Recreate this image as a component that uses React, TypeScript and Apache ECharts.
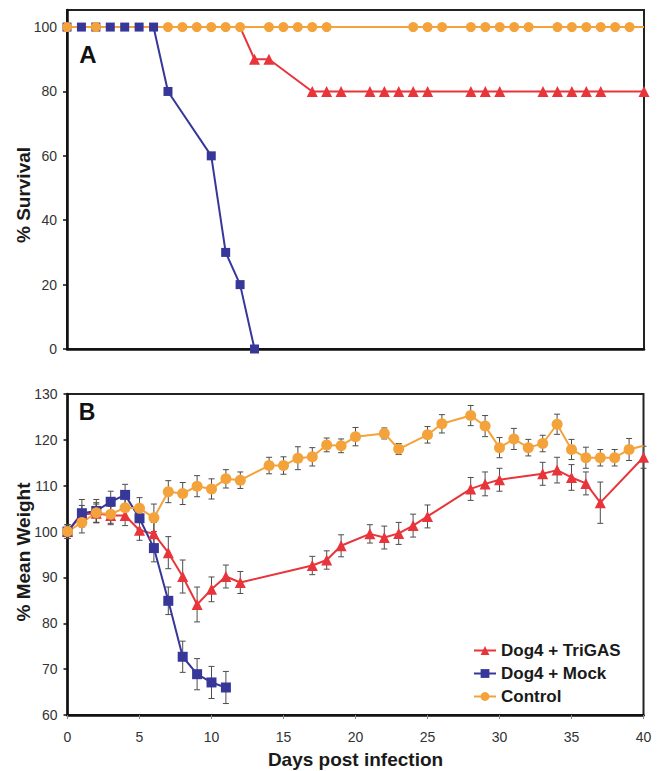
import React, { useEffect, useRef } from "react";
import * as echarts from "echarts";

// ---------- Data ----------
const seriesNames = ["Dog4 + TriGAS", "Dog4 + Mock", "Control"];

// Panel A: % survival
const survTriDays = [12, 13, 14, 17, 18, 19, 21, 22, 23, 24, 25, 28, 29, 30, 33, 34, 35, 36, 37, 40];
const survTri = [100, 90, 90, 80, 80, 80, 80, 80, 80, 80, 80, 80, 80, 80, 80, 80, 80, 80, 80, 80];
const survTriNoMarker = [12];

const survMockDays = [0, 1, 2, 3, 4, 5, 6, 7, 10, 11, 12, 13];
const survMock = [100, 100, 100, 100, 100, 100, 100, 80, 60, 30, 20, 0];

const survCtrlDays = [0, 2, 7, 8, 9, 10, 11, 12, 14, 15, 16, 17, 18, 24, 25, 26, 28, 29, 30, 31, 32, 34, 35, 36, 37, 38, 39, 40];
const survCtrl = [100, 100, 100, 100, 100, 100, 100, 100, 100, 100, 100, 100, 100, 100, 100, 100, 100, 100, 100, 100, 100, 100, 100, 100, 100, 100, 100, 100];
const survCtrlNoMarker = [40];

// Panel B: % mean weight
const wtTriDays = [0, 1, 2, 3, 4, 5, 6, 7, 8, 9, 10, 11, 12, 17, 18, 19, 21, 22, 23, 24, 25, 28, 29, 30, 33, 34, 35, 36, 37, 40];
const wtTri = [100, 103.7, 104, 103.5, 103.5, 100.3, 99.5, 95.4, 90.2, 84.1, 87.4, 90.2, 88.9, 92.6, 93.8, 96.9, 99.5, 98.7, 99.6, 101.3, 103.3, 109.3, 110.4, 111.3, 112.6, 113.4, 111.8, 110.5, 106.3, 116.2];
const wtTriErr = [1.5, 2, 2, 2, 2.2, 2.2, 2.5, 3.5, 3.6, 3.8, 2.7, 2.5, 2.4, 2, 2, 2.4, 2, 2.5, 2.4, 2.5, 2.5, 2.5, 2.6, 2.5, 2.5, 2.8, 2.8, 2.5, 4.5, 2.4];

const wtMockDays = [0, 1, 2, 3, 4, 5, 6, 7, 8, 9, 10, 11];
const wtMock = [100, 104.0, 104.5, 106.5, 108.0, 102.9, 96.4, 84.9, 72.7, 68.9, 67.1, 66.0];
const wtMockErr = [1.5, 3, 2.5, 2.3, 2.3, 2.5, 3, 3, 3.4, 3.4, 3.5, 3.5];

const wtCtrlDays = [0, 1, 2, 3, 4, 5, 6, 7, 8, 9, 10, 11, 12, 14, 15, 16, 17, 18, 19, 20, 22, 23, 25, 26, 28, 29, 30, 31, 32, 33, 34, 35, 36, 37, 38, 39, 40];
const wtCtrl = [100.0, 102.0, 104.1, 103.8, 105.2, 105.1, 103.0, 108.7, 108.3, 109.9, 109.3, 111.5, 111.2, 114.4, 114.4, 116.0, 116.3, 118.9, 118.7, 120.7, 121.4, 118.0, 121.1, 123.5, 125.3, 123.0, 118.3, 120.2, 118.3, 119.2, 123.4, 117.9, 116.1, 116.1, 116.1, 117.9, 118.7];
const wtCtrlErr = [1.5, 2.3, 2.2, 2, 2.3, 2.3, 3, 2.4, 2.4, 2.3, 2.2, 2, 1.8, 1.8, 1.9, 2.5, 2, 1.5, 1.5, 2, 1.2, 1.2, 1.8, 2, 2.2, 2.3, 2.2, 2.3, 1.8, 1.8, 2.2, 2.2, 2.3, 1.8, 1.8, 2.4, 0];
const wtCtrlNoMarker = [40];

const survTicks = [0, 20, 40, 60, 80, 100];

// ---------- Styling ----------
const RED = "#E8353B";
const BLUE = "#37379A";
const ORANGE = "#F4A23A";
const FONT = "Liberation Sans, Arial, Helvetica, sans-serif";

function pts(days: number[], vals: number[], hidden: number[] = []) {
  return days.map((d, i) => {
    const item: any = { value: [d, vals[i]] };
    if (hidden.includes(d)) item.symbol = "none";
    return item;
  });
}
function errPts(days: number[], vals: number[], errs: number[]) {
  return days.map((d, i) => [d, vals[i], errs[i]]);
}

const errRender = (params: any, api: any) => {
  const x = api.value(0);
  const y = api.value(1);
  const e = api.value(2);
  if (!e) return null;
  const top = api.coord([x, y + e]);
  const bot = api.coord([x, y - e]);
  const st = { stroke: "#4d4d4d", lineWidth: 1 };
  const w = 3;
  return {
    type: "group",
    children: [
      { type: "line", shape: { x1: top[0], y1: top[1], x2: bot[0], y2: bot[1] }, style: st },
      { type: "line", shape: { x1: top[0] - w, y1: top[1], x2: top[0] + w, y2: top[1] }, style: st },
      { type: "line", shape: { x1: bot[0] - w, y1: bot[1], x2: bot[0] + w, y2: bot[1] }, style: st },
    ],
  };
};

export default function App() {
  const ref = useRef<HTMLDivElement>(null);
  useEffect(() => {
    if (!ref.current) return;
    const chart = echarts.init(ref.current, undefined, { renderer: "svg" });
    const lineBase = (name: string, color: string, symbol: string, size: number) => ({
      type: "line",
      name,
      symbol,
      symbolSize: size,
      lineStyle: { color, width: 2 },
      itemStyle: { color, borderWidth: 0 },
      emphasis: { disabled: true },
    });
    const option: any = {
      animation: false,
      backgroundColor: "#ffffff",
      textStyle: { fontFamily: FONT },
      grid: [
        { left: 67, top: 10, width: 577, height: 339, show: true, borderColor: "#222", borderWidth: 2, backgroundColor: "transparent" },
        { left: 67.5, top: 394, width: 576, height: 321, show: true, borderColor: "#222", borderWidth: 2, backgroundColor: "transparent" },
      ],
      xAxis: [
        {
          type: "value", gridIndex: 0, min: 0, max: 40, interval: 5,
          axisLine: { show: true, onZero: false, lineStyle: { color: "#111", width: 2.5 } },
          axisTick: { show: false }, axisLabel: { show: false }, splitLine: { show: false },
        },
        {
          type: "value", gridIndex: 1, min: 0, max: 40, interval: 5,
          name: "Days post infection", nameLocation: "middle", nameGap: 35,
          nameTextStyle: { fontFamily: FONT, fontWeight: "bold", fontSize: 19, color: "#1a1a1a" },
          axisLine: { show: true, onZero: false, lineStyle: { color: "#111", width: 2.5 } },
          axisTick: { show: true, inside: false, length: 4, lineStyle: { color: "#888", width: 1 } },
          axisLabel: { fontFamily: FONT, fontSize: 14, color: "#333", margin: 15 },
          splitLine: { show: false },
        },
      ],
      yAxis: [
        {
          type: "value", gridIndex: 0, min: 0, max: 105.3, interval: 20,
          axisLine: { show: true, onZero: false, lineStyle: { color: "#111", width: 2.5 } },
          axisTick: { show: true, inside: false, length: 4, lineStyle: { color: "#111", width: 1.5 }, customValues: survTicks },
          axisLabel: { fontFamily: FONT, fontSize: 14, color: "#333", margin: 10, customValues: survTicks },
          splitLine: { show: false },
        },
        {
          type: "value", gridIndex: 1, min: 60, max: 130, interval: 10,
          axisLine: { show: true, onZero: false, lineStyle: { color: "#111", width: 2.5 } },
          axisTick: { show: true, inside: false, length: 4, lineStyle: { color: "#111", width: 1.5 } },
          axisLabel: { fontFamily: FONT, fontSize: 14, color: "#333", margin: 10 },
          splitLine: { show: false },
        },
      ],
      legend: {
        orient: "vertical",
        left: 468,
        top: 637,
        itemWidth: 22,
        itemHeight: 11,
        itemGap: 6,
        data: seriesNames,
        textStyle: { fontFamily: FONT, fontWeight: "bold", fontSize: 17, color: "#1a1a1a" },
        selectedMode: false,
      },
      graphic: [
        { type: "text", x: 88, y: 54, style: { text: "A", font: `bold 24px ${FONT}`, fill: "#111", align: "center", verticalAlign: "middle" } },
        { type: "text", x: 87, y: 412, style: { text: "B", font: `bold 23px ${FONT}`, fill: "#111", align: "center", verticalAlign: "middle" } },
        { type: "text", x: 23, y: 195, rotation: Math.PI / 2, style: { text: "% Survival", font: `bold 19px ${FONT}`, fill: "#1a1a1a", align: "center", verticalAlign: "middle" } },
        { type: "text", x: 23, y: 552, rotation: Math.PI / 2, style: { text: "% Mean Weight", font: `bold 19px ${FONT}`, fill: "#1a1a1a", align: "center", verticalAlign: "middle" } },
      ],
      series: [
        // Panel A
        { ...lineBase(seriesNames[0], RED, "triangle", 11), xAxisIndex: 0, yAxisIndex: 0, data: pts(survTriDays, survTri, survTriNoMarker) },
        { ...lineBase(seriesNames[1], BLUE, "rect", 9), xAxisIndex: 0, yAxisIndex: 0, data: pts(survMockDays, survMock) },
        { ...lineBase(seriesNames[2], ORANGE, "circle", 10), z: 3, xAxisIndex: 0, yAxisIndex: 0, data: pts(survCtrlDays, survCtrl, survCtrlNoMarker) },
        // Panel B error bars
        { type: "custom", xAxisIndex: 1, yAxisIndex: 1, renderItem: errRender, encode: { x: 0, y: 1 }, data: errPts(wtTriDays, wtTri, wtTriErr), silent: true },
        { type: "custom", xAxisIndex: 1, yAxisIndex: 1, renderItem: errRender, encode: { x: 0, y: 1 }, data: errPts(wtMockDays, wtMock, wtMockErr), silent: true },
        { type: "custom", xAxisIndex: 1, yAxisIndex: 1, renderItem: errRender, encode: { x: 0, y: 1 }, data: errPts(wtCtrlDays, wtCtrl, wtCtrlErr), silent: true },
        // Panel B lines
        { ...lineBase(seriesNames[0], RED, "triangle", 11), xAxisIndex: 1, yAxisIndex: 1, data: pts(wtTriDays, wtTri) },
        { ...lineBase(seriesNames[1], BLUE, "rect", 10), xAxisIndex: 1, yAxisIndex: 1, data: pts(wtMockDays, wtMock) },
        { ...lineBase(seriesNames[2], ORANGE, "circle", 11), xAxisIndex: 1, yAxisIndex: 1, data: pts(wtCtrlDays, wtCtrl, wtCtrlNoMarker) },
      ],
    };
    chart.setOption(option);
    return () => chart.dispose();
  }, []);
  return <div ref={ref} style={{ position: "absolute", left: 0, top: 0, width: 663, height: 771 }} />;
}
